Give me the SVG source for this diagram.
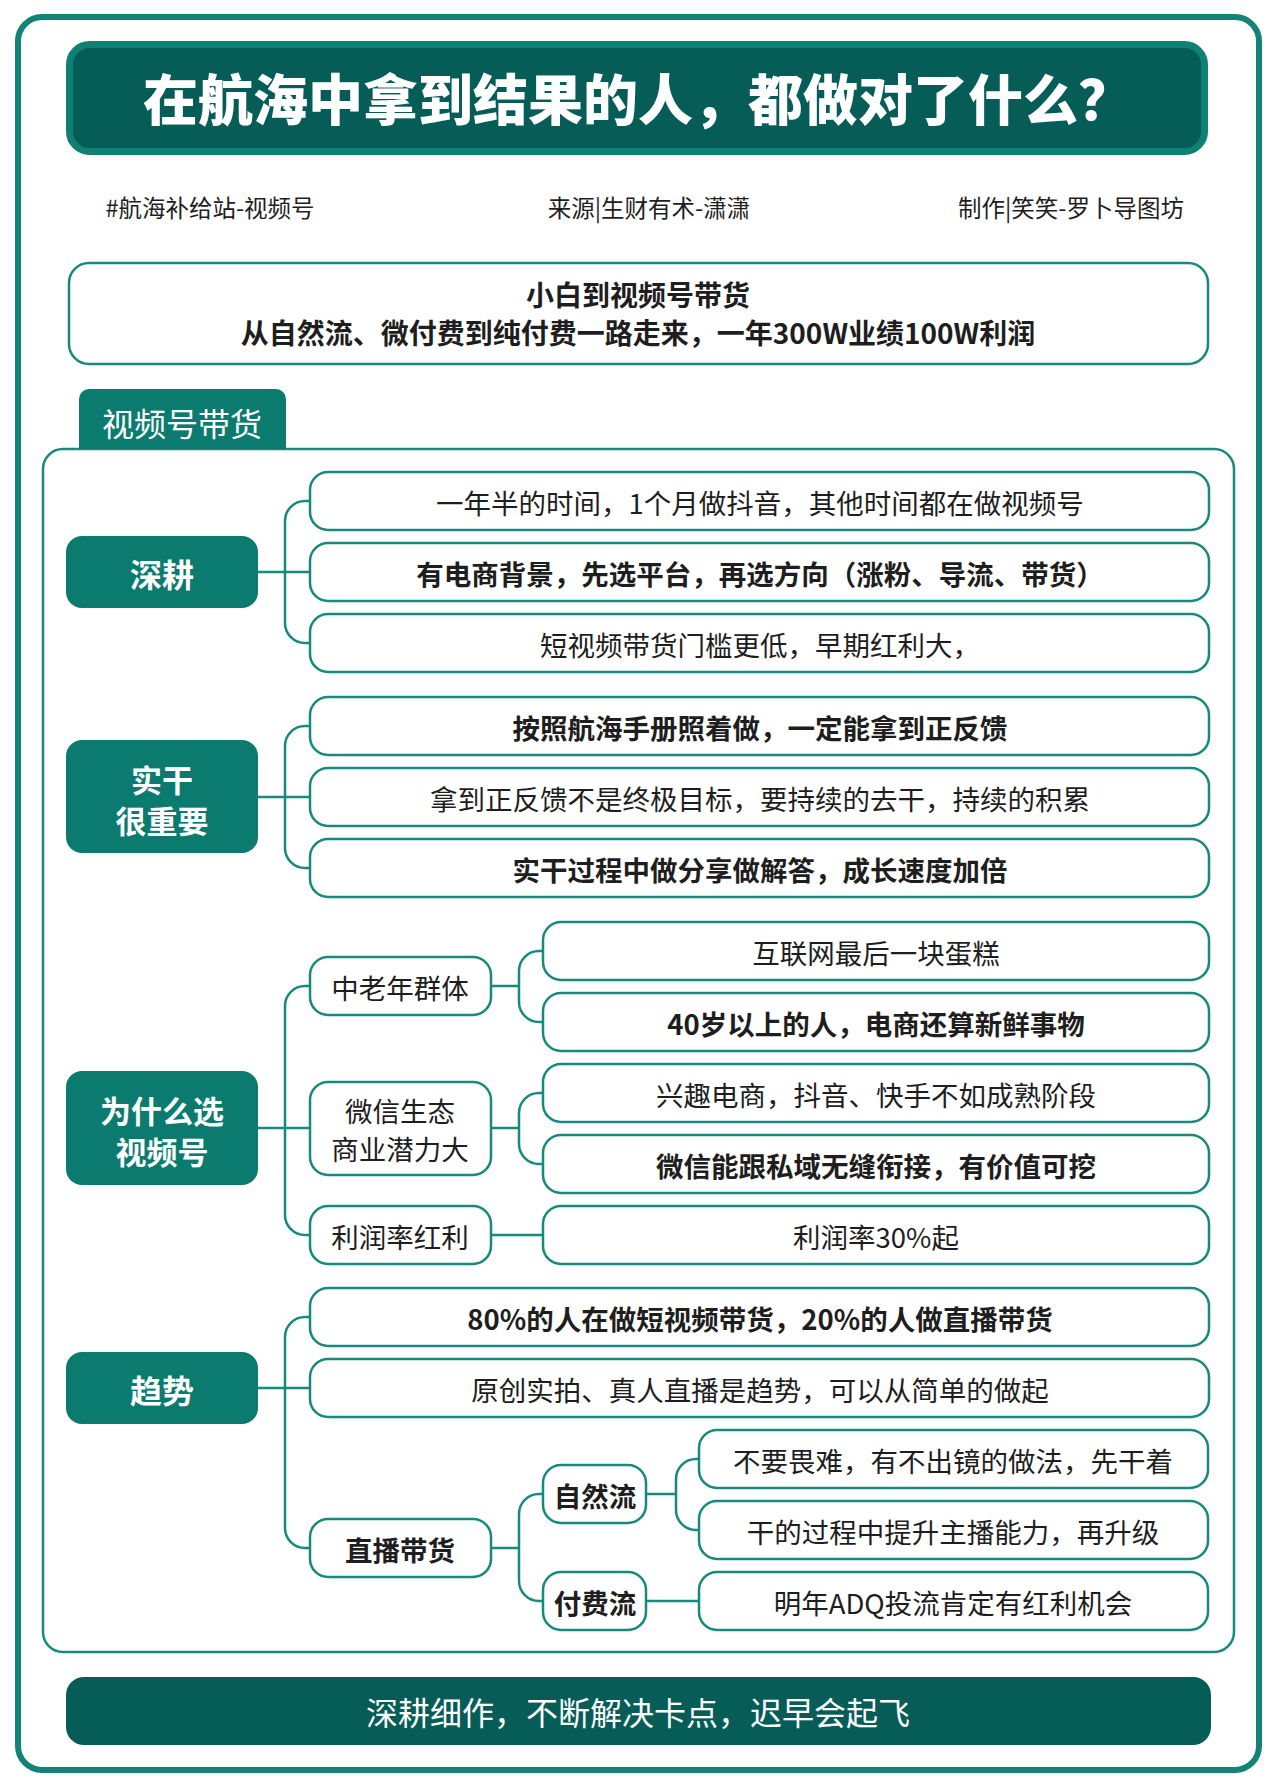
<svg xmlns="http://www.w3.org/2000/svg" width="1280" height="1791" viewBox="0 0 1280 1791">
<style>
.t{font-family:"Noto Sans CJK SC","Noto Sans",sans-serif;fill:#1e1e1e;text-anchor:middle;dominant-baseline:central;font-size:27.5px}
.b{font-weight:700}
.w{fill:#fff}
.box{fill:#fff;stroke:#178a7c;stroke-width:2.5}
.cat{fill:#0b7b6f}
.conn path{fill:none;stroke:#178a7c;stroke-width:2.5}
</style>
<rect width="1280" height="1791" fill="#fff"/>
<rect x="18" y="17" width="1241" height="1753" rx="24" fill="#fff" stroke="#128375" stroke-width="6"/>
<g id="title">
<rect x="69.5" y="44.5" width="1135" height="107" rx="20" fill="#065c57" stroke="#0e8074" stroke-width="7"/>
<text class="t w" x="638" y="96" style="font-size:55px;font-weight:900">在航海中拿到结果的人，都做对了什么？</text>
</g>
<g id="meta">
<text class="t" x="210" y="207" style="font-size:23.5px">#航海补给站-视频号</text>
<text class="t" x="649" y="207" style="font-size:23.5px">来源|生财有术-潇潇</text>
<text class="t" x="1071" y="207" style="font-size:23.5px">制作|笑笑-罗卜导图坊</text>
</g>
<g id="intro">
<rect class="box" x="69" y="263" width="1139" height="101" rx="20"/>
<text class="t b" x="638" y="294" style="font-size:28px">小白到视频号带货</text>
<text class="t b" x="638" y="332" style="font-size:28px">从自然流、微付费到纯付费一路走来，一年300W业绩100W利润</text>
</g>
<g id="group">
<rect x="43" y="449" width="1191" height="1203" rx="20" fill="#fff" stroke="#178a7c" stroke-width="2.5"/>
<path d="M79 449 V399 A10 10 0 0 1 89 389 H276 A10 10 0 0 1 286 399 V449 Z" fill="#0b7b6f"/>
<text class="t w" x="182" y="422" style="font-size:32px">视频号带货</text>
</g>
<g class="conn" id="connectors">
<path d="M258 572 H310 M285 572 V521 A20 20 0 0 1 305 501 H310 M285 572 V623 A20 20 0 0 0 305 643 H310"/>
<path d="M258 797 H310 M285 797 V746 A20 20 0 0 1 305 726 H310 M285 797 V848 A20 20 0 0 0 305 868 H310"/>
<path d="M258 1128 H310 M285 1128 V1006 A20 20 0 0 1 305 986 H310 M285 1128 V1215 A20 20 0 0 0 305 1235 H310"/>
<path d="M491 986 H519 M519 986 V971 A20 20 0 0 1 539 951 H543 M519 986 V1002 A20 20 0 0 0 539 1022 H543"/>
<path d="M491 1128 H519 M519 1128 V1113 A20 20 0 0 1 539 1093 H543 M519 1128 V1144 A20 20 0 0 0 539 1164 H543"/>
<path d="M491 1235 H543"/>
<path d="M258 1388 H310 M285 1388 V1337 A20 20 0 0 1 305 1317 H310 M285 1388 V1528 A20 20 0 0 0 305 1548 H310"/>
<path d="M491 1548 H519 M519 1548 V1514 A20 20 0 0 1 539 1494 H543 M519 1548 V1581 A20 20 0 0 0 539 1601 H543"/>
<path d="M646 1494 H676 M676 1494 V1479 A20 20 0 0 1 696 1459 H699 M676 1494 V1510 A20 20 0 0 0 696 1530 H699"/>
<path d="M646 1601 H699"/>
</g>
<g id="n-shengeng"><rect class="cat" x="66" y="536" width="192" height="72" rx="16"/><text class="t b w" x="162" y="573" style="font-size:32px">深耕</text></g>
<g id="n-shigan"><rect class="cat" x="66" y="740" width="192" height="113" rx="16"/><text class="t b w" x="162" y="778" style="font-size:31px">实干</text><text class="t b w" x="162" y="819" style="font-size:31px">很重要</text></g>
<g id="n-why"><rect class="cat" x="66" y="1071" width="192" height="114" rx="16"/><text class="t b w" x="162" y="1109" style="font-size:31px">为什么选</text><text class="t b w" x="162" y="1150" style="font-size:31px">视频号</text></g>
<g id="n-trend"><rect class="cat" x="66" y="1352" width="192" height="72" rx="16"/><text class="t b w" x="162" y="1389" style="font-size:32px">趋势</text></g>

<g id="l1"><rect class="box" x="310" y="472" width="899" height="58" rx="18"/><text class="t" x="760" y="502">一年半的时间，1个月做抖音，其他时间都在做视频号</text></g>
<g id="l2"><rect class="box" x="310" y="543" width="899" height="58" rx="18"/><text class="t b" x="760" y="573">有电商背景，先选平台，再选方向（涨粉、导流、带货）</text></g>
<g id="l3"><rect class="box" x="310" y="614" width="899" height="58" rx="18"/><text class="t" x="760" y="644">短视频带货门槛更低，早期红利大，</text></g>
<g id="l4"><rect class="box" x="310" y="697" width="899" height="58" rx="18"/><text class="t b" x="760" y="727">按照航海手册照着做，一定能拿到正反馈</text></g>
<g id="l5"><rect class="box" x="310" y="768" width="899" height="58" rx="18"/><text class="t" x="760" y="798">拿到正反馈不是终极目标，要持续的去干，持续的积累</text></g>
<g id="l6"><rect class="box" x="310" y="839" width="899" height="58" rx="18"/><text class="t b" x="760" y="869">实干过程中做分享做解答，成长速度加倍</text></g>

<g id="m1"><rect class="box" x="310" y="957" width="181" height="58" rx="18"/><text class="t" x="400" y="987">中老年群体</text></g>
<g id="m2"><rect class="box" x="310" y="1082" width="181" height="93" rx="18"/><text class="t" x="400" y="1110">微信生态</text><text class="t" x="400" y="1148">商业潜力大</text></g>
<g id="m3"><rect class="box" x="310" y="1206" width="181" height="58" rx="18"/><text class="t" x="400" y="1236">利润率红利</text></g>

<g id="l7"><rect class="box" x="543" y="922" width="666" height="58" rx="18"/><text class="t" x="876" y="952">互联网最后一块蛋糕</text></g>
<g id="l8"><rect class="box" x="543" y="993" width="666" height="58" rx="18"/><text class="t b" x="876" y="1023">40岁以上的人，电商还算新鲜事物</text></g>
<g id="l9"><rect class="box" x="543" y="1064" width="666" height="58" rx="18"/><text class="t" x="876" y="1094">兴趣电商，抖音、快手不如成熟阶段</text></g>
<g id="l10"><rect class="box" x="543" y="1135" width="666" height="58" rx="18"/><text class="t b" x="876" y="1165">微信能跟私域无缝衔接，有价值可挖</text></g>
<g id="l11"><rect class="box" x="543" y="1206" width="666" height="58" rx="18"/><text class="t" x="876" y="1236">利润率30%起</text></g>

<g id="l12"><rect class="box" x="310" y="1288" width="899" height="58" rx="18"/><text class="t b" x="760" y="1318">80%的人在做短视频带货，20%的人做直播带货</text></g>
<g id="l13"><rect class="box" x="310" y="1359" width="899" height="58" rx="18"/><text class="t" x="760" y="1389">原创实拍、真人直播是趋势，可以从简单的做起</text></g>
<g id="m4"><rect class="box" x="310" y="1519" width="181" height="58" rx="18"/><text class="t b" x="400" y="1549">直播带货</text></g>
<g id="m5"><rect class="box" x="543" y="1465" width="103" height="58" rx="18"/><text class="t b" x="595" y="1495">自然流</text></g>
<g id="m6"><rect class="box" x="543" y="1572" width="103" height="58" rx="18"/><text class="t b" x="595" y="1602">付费流</text></g>
<g id="l14"><rect class="box" x="699" y="1430" width="509" height="58" rx="18"/><text class="t" x="953" y="1460">不要畏难，有不出镜的做法，先干着</text></g>
<g id="l15"><rect class="box" x="699" y="1501" width="509" height="58" rx="18"/><text class="t" x="953" y="1531">干的过程中提升主播能力，再升级</text></g>
<g id="l16"><rect class="box" x="699" y="1572" width="509" height="58" rx="18"/><text class="t" x="953" y="1602">明年ADQ投流肯定有红利机会</text></g>

<g id="footer">
<rect x="66" y="1677" width="1145" height="68" rx="18" fill="#065c57"/>
<text class="t w" x="638" y="1711" style="font-size:32px">深耕细作，不断解决卡点，迟早会起飞</text>
</g>
</svg>
